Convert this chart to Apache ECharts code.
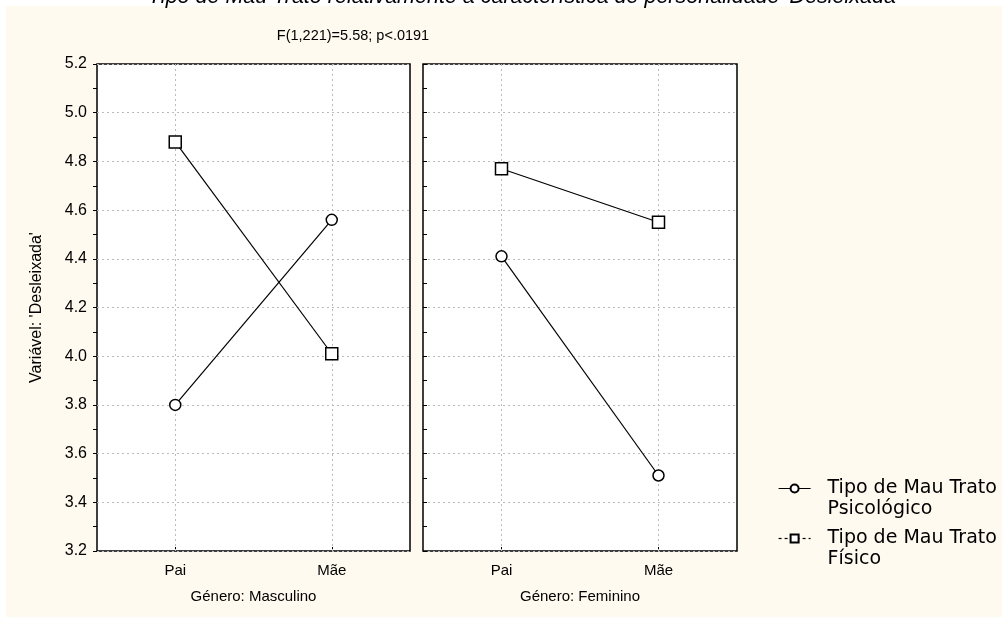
<!DOCTYPE html>
<html>
<head>
<meta charset="utf-8">
<script src="https://cdn.jsdelivr.net/npm/echarts@6/dist/echarts.min.js"></script>
<style>
html,body{margin:0;padding:0;background:#fff;}
#bg{position:absolute;left:6px;top:6px;width:996px;height:611px;background:#FFFAEF;}
#chart{position:absolute;left:0;top:0;width:1002px;height:621px;}
</style>
</head>
<body>
<div id="bg"></div>
<div id="chart"></div>
<script>
const categories = ['Pai', 'Mãe'];
const panels = ['Género: Masculino', 'Género: Feminino'];
const seriesNames = ['Tipo de Mau Trato\nPsicológico', 'Tipo de Mau Trato\nFísico'];
const psicoMasc = [3.80, 4.56];
const fisicoMasc = [4.88, 4.01];
const psicoFem = [4.41, 3.51];
const fisicoFem = [4.77, 4.55];

const font = '"Liberation Sans", Arial, sans-serif';
const chart = echarts.init(document.getElementById('chart'), null, {renderer: 'canvas'});

function xAxis(i) {
  return {
    type: 'category', gridIndex: i, data: categories, boundaryGap: true,
    name: panels[i], nameLocation: 'middle', nameGap: 38,
    nameTextStyle: {color: '#000', fontSize: 15, fontFamily: font},
    axisLine: {show: false},
    axisTick: {show: true, alignWithLabel: true, inside: true, length: 4, lineStyle: {color: '#000'}},
    axisLabel: {color: '#000', fontSize: 15, fontFamily: font, margin: 12},
    splitLine: {show: false}
  };
}
function yAxis(i) {
  return {
    type: 'value', gridIndex: i, min: 3.2, max: 5.2, interval: 0.2,
    name: i === 0 ? "Variável: 'Desleixada'" : '',
    nameLocation: 'middle', nameGap: 52, nameRotate: 90,
    nameTextStyle: {color: '#000', fontSize: 16, fontFamily: font},
    axisLine: {show: false},
    axisTick: {show: true, inside: i !== 0, length: 4, lineStyle: {color: '#000'}},
    minorTick: {show: true, splitNumber: 2, length: 4, lineStyle: {color: '#000'}},
    axisLabel: {show: i === 0, color: '#000', fontSize: 16, fontFamily: font, margin: 10,
      formatter: v => v.toFixed(1)},
    splitLine: {show: true, lineStyle: {color: '#bbb', type: [2, 3], width: 1}}
  };
}

function makeSeries(name, data, i, symbol, size) {
  return {
    name: name, type: 'line', xAxisIndex: i, yAxisIndex: i, data: data,
    symbol: symbol, symbolSize: size, showSymbol: true,
    lineStyle: {color: '#000', width: 1.2},
    itemStyle: {color: '#fff', borderColor: '#000', borderWidth: 1.5},
    emphasis: {disabled: true}, z: 5
  };
}

function vLine(i) {
  return {
    type: 'line', xAxisIndex: i, yAxisIndex: i, data: [], silent: true,
    markLine: {
      symbol: 'none', silent: true, label: {show: false},
      lineStyle: {color: '#bbb', type: [2, 3], width: 1},
      data: categories.map(c => ({xAxis: c}))
    }
  };
}

const option = {
  backgroundColor: 'transparent',
  animation: false,
  title: [
    {text: "Tipo de Mau Trato relativamente à característica de personalidade 'Desleixada'",
     left: 519, top: -19, textAlign: 'center',
     textStyle: {fontSize: 21.5, fontStyle: 'italic', fontWeight: 'normal', color: '#000', fontFamily: font}},
    {text: 'F(1,221)=5.58; p<.0191', left: 348, top: 23, textAlign: 'center',
     textStyle: {fontSize: 14.5, fontWeight: 'normal', color: '#000', fontFamily: font}}
  ],
  grid: [
    {left: 97, top: 64, width: 313, height: 487, show: true, backgroundColor: '#fff', borderColor: '#000', borderWidth: 1.5},
    {left: 423, top: 64, width: 314, height: 487, show: true, backgroundColor: '#fff', borderColor: '#000', borderWidth: 1.5}
  ],
  xAxis: [xAxis(0), xAxis(1)],
  yAxis: [yAxis(0), yAxis(1)],
  legend: {
    orient: 'vertical', left: 773, top: 452, itemWidth: 32, itemHeight: 10, itemGap: -13,
    formatter: name => '\n' + name,
    textStyle: {fontSize: 19, color: '#000', fontFamily: '"DejaVu Sans", sans-serif', lineHeight: 21,
      padding: [0, 0, 0, 12]},
    data: [
      {name: seriesNames[0], lineStyle: {color: '#000', width: 1.2}},
      {name: seriesNames[1], lineStyle: {color: '#000', width: 1.2, type: [3, 3]}}
    ]
  },
  series: [
    vLine(0), vLine(1),
    makeSeries(seriesNames[0], psicoMasc, 0, 'circle', 11),
    makeSeries(seriesNames[1], fisicoMasc, 0, 'rect', 12),
    makeSeries(seriesNames[0], psicoFem, 1, 'circle', 11),
    makeSeries(seriesNames[1], fisicoFem, 1, 'rect', 12)
  ]
};
chart.setOption(option);
</script>
</body>
</html>
